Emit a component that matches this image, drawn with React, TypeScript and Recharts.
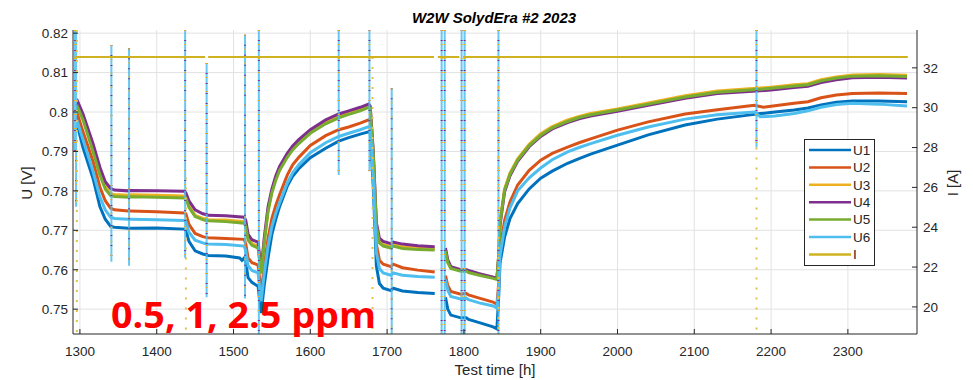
import React from 'react';
import { LineChart, Line, XAxis, YAxis, CartesianGrid } from 'recharts';

// axis ticks
const xTicks = [1300, 1400, 1500, 1600, 1700, 1800, 1900, 2000, 2100, 2200, 2300];
const uTicks = [0.75, 0.76, 0.77, 0.78, 0.79, 0.8, 0.81, 0.82];
const iTicks = [20, 22, 24, 26, 28, 30, 32];

const seriesNames = ['U1', 'U2', 'U3', 'U4', 'U5', 'U6', 'I'];
const seriesColors = ['#0072BD', '#D95319', '#EDB120', '#7E2F8E', '#77AC30', '#4DBEEE', '#CFB21F'];

// cell voltages [time h, U V]; null = no data
const u1 = [
  [1296, 0.795], [1297.5, 0.796], [1304, 0.791], [1317, 0.7832], [1326, 0.776], [1333, 0.7728], [1340, 0.771],
  [1345, 0.7708], [1363, 0.7705], [1366, 0.7705], [1400, 0.7706], [1436, 0.7703],
  [1438, 0.77], [1442, 0.7672], [1450, 0.7648], [1460, 0.764], [1464, 0.7638],
  [1467, 0.7636], [1490, 0.7635], [1508, 0.763], [1511, 0.7624], [1514, 0.763],
  [1516, 0.7618], [1519, 0.758], [1524, 0.7568], [1532, 0.7558],
  [1536, 0.749], [1540, 0.756], [1545, 0.763], [1550, 0.769], [1555, 0.7728], [1560, 0.776], [1570, 0.7812], [1577, 0.7837], [1585, 0.7856], [1600, 0.7884], [1620, 0.7908], [1637, 0.7926], [1650, 0.7935], [1665, 0.7944], [1676, 0.795],
  [1678, 0.7948], [1682, 0.781], [1686, 0.761], [1690, 0.7565], [1695, 0.7553], [1705, 0.7547], [1708, 0.7553], [1720, 0.7546], [1740, 0.7542], [1762, 0.754],
  [1768, null],
  [1776, 0.753], [1779, 0.75], [1783, 0.7485], [1796, 0.7478], [1803, 0.7478], [1806, 0.7474], [1820, 0.7466], [1838, 0.7455], [1843, 0.745],
  [1845.5, 0.754], [1847, 0.7616], [1853, 0.7683], [1860, 0.773], [1870, 0.7768], [1885, 0.7805], [1900, 0.7832], [1915, 0.785], [1935, 0.787], [1950, 0.7882], [1965, 0.7893], [2000, 0.7916], [2040, 0.7942], [2088, 0.7967], [2130, 0.7982], [2178, 0.7994], [2186, 0.7996], [2205, 0.8], [2230, 0.8005], [2248, 0.801], [2265, 0.8018], [2285, 0.8025], [2306, 0.8028], [2340, 0.8028], [2377, 0.8026],
];
const u2 = [
  [1296, 0.798], [1297.5, 0.799], [1304, 0.795], [1317, 0.7875], [1326, 0.781], [1333, 0.7775], [1340, 0.7756],
  [1345, 0.7752], [1363, 0.7749], [1366, 0.7749], [1400, 0.7747], [1436, 0.7744],
  [1438, 0.7742], [1442, 0.7715], [1450, 0.7692], [1460, 0.7684], [1464, 0.7682],
  [1467, 0.7681], [1490, 0.7679], [1514, 0.7677],
  [1516, 0.7665], [1519, 0.763], [1524, 0.7618], [1532, 0.7612],
  [1536, 0.754], [1540, 0.761], [1545, 0.768], [1550, 0.773], [1555, 0.7763], [1560, 0.779], [1570, 0.784], [1577, 0.7866], [1585, 0.7885], [1600, 0.7915], [1620, 0.794], [1637, 0.7955], [1650, 0.7962], [1665, 0.7972], [1676, 0.798],
  [1678, 0.7975], [1682, 0.785], [1686, 0.7665], [1690, 0.7624], [1695, 0.7614], [1705, 0.7608], [1708, 0.7614], [1720, 0.7605], [1740, 0.7599], [1762, 0.7594],
  [1768, null],
  [1776, 0.7585], [1779, 0.756], [1783, 0.7545], [1796, 0.7538], [1803, 0.754], [1806, 0.7536], [1820, 0.7528], [1838, 0.7518], [1843, 0.7512],
  [1845.5, 0.757], [1847, 0.765], [1853, 0.7725], [1860, 0.7772], [1870, 0.7815], [1885, 0.7852], [1900, 0.7878], [1915, 0.7895], [1935, 0.7911], [1950, 0.7922], [1965, 0.7932], [2000, 0.7954], [2040, 0.7975], [2088, 0.7995], [2130, 0.8006], [2178, 0.8017], [2190, 0.8012], [2205, 0.8016], [2230, 0.8022], [2248, 0.8026], [2265, 0.8036], [2285, 0.8043], [2306, 0.8047], [2340, 0.8048], [2377, 0.8047],
];
const u3 = [
  [1296, 0.8005], [1297.5, 0.8015], [1304, 0.7985], [1317, 0.791], [1326, 0.785], [1333, 0.7812], [1340, 0.7793],
  [1345, 0.7791], [1363, 0.7789], [1366, 0.779], [1400, 0.7789], [1436, 0.7787],
  [1438, 0.7785], [1442, 0.7762], [1450, 0.7738], [1460, 0.773], [1464, 0.7729],
  [1467, 0.7727], [1490, 0.7726], [1514, 0.7722],
  [1516, 0.7714], [1519, 0.768], [1524, 0.7666], [1532, 0.766],
  [1536, 0.7594], [1540, 0.7672], [1545, 0.7752], [1550, 0.7799], [1555, 0.7831], [1560, 0.7856], [1570, 0.7889], [1577, 0.7908], [1585, 0.7924], [1600, 0.795], [1620, 0.7974], [1637, 0.7989], [1650, 0.7998], [1665, 0.8007], [1676, 0.8016],
  [1678, 0.8011], [1682, 0.7894], [1686, 0.7714], [1690, 0.7672], [1695, 0.7664], [1705, 0.7659], [1708, 0.7664], [1720, 0.7658], [1740, 0.7655], [1762, 0.7654],
  [1768, null],
  [1776, 0.7651], [1779, 0.7621], [1783, 0.7606], [1796, 0.7599], [1803, 0.76], [1806, 0.7596], [1820, 0.7589], [1838, 0.7581], [1843, 0.7578],
  [1845.5, 0.7643], [1847, 0.7721], [1853, 0.7805], [1860, 0.7845], [1870, 0.7881], [1885, 0.7918], [1900, 0.7945], [1915, 0.7963], [1935, 0.798], [1950, 0.7989], [1965, 0.7996], [2000, 0.8008], [2040, 0.8023], [2088, 0.8041], [2130, 0.8053], [2181, 0.806], [2200, 0.8063], [2230, 0.8069], [2248, 0.8072], [2265, 0.8082], [2285, 0.8089], [2306, 0.8094], [2340, 0.8095], [2377, 0.8093],
];
const u4 = [
  [1296, 0.8015], [1297.5, 0.8025], [1304, 0.7995], [1317, 0.792], [1326, 0.786], [1333, 0.7823], [1340, 0.7806],
  [1345, 0.7802], [1363, 0.78], [1366, 0.7801], [1400, 0.78], [1436, 0.7799],
  [1438, 0.7795], [1442, 0.7775], [1450, 0.7752], [1460, 0.7742], [1464, 0.774],
  [1467, 0.7738], [1490, 0.7737], [1514, 0.7733],
  [1516, 0.7725], [1519, 0.769], [1524, 0.7676], [1532, 0.767],
  [1536, 0.76], [1540, 0.768], [1545, 0.776], [1550, 0.7805], [1555, 0.7838], [1560, 0.7862], [1570, 0.7895], [1577, 0.7914], [1585, 0.793], [1600, 0.7955], [1620, 0.798], [1637, 0.7995], [1650, 0.8003], [1665, 0.8012], [1676, 0.802],
  [1678, 0.8015], [1682, 0.79], [1686, 0.772], [1690, 0.768], [1695, 0.7672], [1705, 0.7666], [1708, 0.767], [1720, 0.7665], [1740, 0.7661], [1762, 0.7658],
  [1768, null],
  [1776, 0.7655], [1779, 0.7625], [1783, 0.7608], [1796, 0.76], [1803, 0.76], [1806, 0.7598], [1820, 0.759], [1838, 0.7581], [1843, 0.7578],
  [1845.5, 0.764], [1847, 0.7712], [1853, 0.7798], [1860, 0.7838], [1870, 0.7875], [1885, 0.7912], [1900, 0.7938], [1915, 0.7957], [1935, 0.7973], [1950, 0.7983], [1965, 0.799], [2000, 0.8002], [2040, 0.8017], [2088, 0.8035], [2130, 0.8047], [2181, 0.8053], [2200, 0.8056], [2230, 0.8062], [2248, 0.8065], [2265, 0.8075], [2285, 0.8082], [2306, 0.8087], [2340, 0.8088], [2377, 0.8086],
];
const u5 = [
  [1296, 0.8], [1297.5, 0.801], [1304, 0.798], [1317, 0.79], [1326, 0.784], [1333, 0.7805], [1340, 0.7788],
  [1345, 0.7786], [1363, 0.7784], [1366, 0.7785], [1400, 0.7784], [1436, 0.7782],
  [1438, 0.7782], [1442, 0.7758], [1450, 0.7735], [1460, 0.7727], [1464, 0.7725],
  [1467, 0.7724], [1490, 0.7722], [1514, 0.7718],
  [1516, 0.771], [1519, 0.7675], [1524, 0.7662], [1532, 0.7655],
  [1536, 0.759], [1540, 0.7668], [1545, 0.7748], [1550, 0.7795], [1555, 0.7827], [1560, 0.7852], [1570, 0.7885], [1577, 0.7904], [1585, 0.792], [1600, 0.7946], [1620, 0.797], [1637, 0.7985], [1650, 0.7994], [1665, 0.8003], [1676, 0.8012],
  [1678, 0.8008], [1682, 0.789], [1686, 0.771], [1690, 0.7668], [1695, 0.766], [1705, 0.7655], [1708, 0.766], [1720, 0.7654], [1740, 0.7651], [1762, 0.765],
  [1768, null],
  [1776, 0.7648], [1779, 0.7618], [1783, 0.7603], [1796, 0.7596], [1803, 0.7597], [1806, 0.7593], [1820, 0.7586], [1838, 0.7578], [1843, 0.7575],
  [1845.5, 0.764], [1847, 0.7718], [1853, 0.7802], [1860, 0.7842], [1870, 0.7878], [1885, 0.7915], [1900, 0.7941], [1915, 0.796], [1935, 0.7976], [1950, 0.7986], [1965, 0.7993], [2000, 0.8005], [2040, 0.802], [2088, 0.8038], [2130, 0.805], [2181, 0.8057], [2200, 0.806], [2230, 0.8066], [2248, 0.8069], [2265, 0.8079], [2285, 0.8086], [2306, 0.8091], [2340, 0.8092], [2377, 0.809],
];
const u6 = [
  [1296, 0.796], [1297.5, 0.797], [1304, 0.793], [1317, 0.785], [1326, 0.7785], [1333, 0.7752], [1340, 0.7733],
  [1345, 0.773], [1363, 0.7728], [1366, 0.7728], [1400, 0.7727], [1436, 0.7725],
  [1438, 0.7722], [1442, 0.7695], [1450, 0.7675], [1460, 0.7668], [1464, 0.7666],
  [1467, 0.7665], [1490, 0.7664], [1514, 0.766],
  [1516, 0.7648], [1519, 0.761], [1524, 0.7598], [1532, 0.7592],
  [1536, 0.752], [1540, 0.759], [1545, 0.766], [1550, 0.771], [1555, 0.7743], [1560, 0.777], [1570, 0.782], [1577, 0.7846], [1585, 0.7866], [1600, 0.7897], [1620, 0.7922], [1637, 0.7938], [1650, 0.7946], [1665, 0.7955], [1676, 0.7963],
  [1678, 0.796], [1682, 0.783], [1686, 0.7645], [1690, 0.7603], [1695, 0.7592], [1705, 0.7586], [1708, 0.7592], [1720, 0.7586], [1740, 0.7583], [1762, 0.7581],
  [1768, null],
  [1776, 0.7575], [1779, 0.7548], [1783, 0.7532], [1796, 0.7526], [1803, 0.7528], [1806, 0.7524], [1820, 0.7516], [1838, 0.7508], [1843, 0.7503],
  [1845.5, 0.7555], [1847, 0.7635], [1853, 0.7708], [1860, 0.7757], [1870, 0.78], [1885, 0.7833], [1900, 0.7858], [1915, 0.7879], [1935, 0.7899], [1950, 0.791], [1965, 0.792], [2000, 0.7941], [2040, 0.7962], [2088, 0.7982], [2130, 0.7993], [2178, 0.8], [2186, 0.7988], [2205, 0.799], [2230, 0.7996], [2248, 0.8003], [2265, 0.8012], [2285, 0.8019], [2306, 0.8022], [2340, 0.802], [2377, 0.8015],
];

// current [time h, I A]
const iLine = [
  [1293, 32.55], [1463, 32.55], [1464, null], [1467, 32.55], [1761, 32.55], [1762, null],
  [1766, 32.55], [1794, 32.55], [1795, null], [1799, 32.55], [2378, 32.55],
];

// transients during the events: [time h, upper V, lower V]
const spikes = [
  [1293.5, 0.8208, 0.79], [1295, 0.8208, 0.776], [1341, 0.817, 0.762], [1364, 0.8162, 0.761],
  [1437, 0.8208, 0.763], [1465, 0.8124, 0.753], [1515, 0.8196, 0.7527], [1533, 0.8208, 0.7437],
  [1637, 0.8208, 0.784], [1677, 0.8208, 0.785], [1706, 0.806, 0.7437], [1771, 0.8208, 0.7437],
  [1775, 0.8208, 0.7437], [1797, 0.8208, 0.7437], [1801, 0.8208, 0.7437], [1845, 0.8208, 0.7437],
  [2181, 0.8208, 0.791],
];
// current drop-outs: [time h, upper A, lower A]
const iDips = [
  [1296, 33.9, 18.7], [1438, 26.5, 18.7], [1681, 32.55, 18.7], [1845, 32.55, 18.7], [2181, 28.5, 18.7],
];

const uSeries = [u1, u2, u3, u4, u5, u6];

const toPts = (arr) => arr.map(([t, v]) => ({ t, v }));
const toBars = (arr) => arr.flatMap(([t, hi, lo]) => [{ t, v: hi }, { t, v: lo }, { t, v: null }]);

const font = "'Liberation Sans', Arial, Helvetica, sans-serif";
const ink = '#262626';
const tickStyle = { fill: ink, fontSize: 13.5, fontFamily: font };

const Overlay = () => (
  <svg width={973} height={380} style={{ position: 'absolute', left: 0, top: 0, pointerEvents: 'none' }}>
    <text x={494} y={23} textAnchor="middle" fontFamily={font} fontSize={15} fontWeight="bold" fontStyle="italic" fill="#000">
      W2W SolydEra #2 2023
    </text>
    <text x={495} y={375} textAnchor="middle" fontFamily={font} fontSize={15} fill={ink}>Test time [h]</text>
    <text transform="translate(32,183) rotate(-90)" textAnchor="middle" fontFamily={font} fontSize={15} fill={ink}>U [V]</text>
    <text transform="translate(958,183) rotate(-90)" textAnchor="middle" fontFamily={font} fontSize={15} fill={ink}>I [A]</text>
    <text x={111} y={328} fontFamily="'Open Sans', sans-serif" fontWeight="bold" fontSize={35} fill="#FF0000"
      textLength={265} lengthAdjust="spacingAndGlyphs">
      0.5, 1, 2.5 ppm
    </text>
    <rect x={804.5} y={139.5} width={70} height={126} fill="#fff" stroke={ink} strokeWidth={1} />
    {seriesNames.map((name, i) => (
      <g key={name}>
        <line x1={809} x2={851} y1={150 + i * 17.4} y2={150 + i * 17.4} stroke={seriesColors[i]} strokeWidth={2.5} />
        <text x={853} y={150 + i * 17.4 + 4.8} fontFamily={font} fontSize={13.5} fill={ink}>{name}</text>
      </g>
    ))}
  </svg>
);

export default function App() {
  return (
    <div style={{ position: 'absolute', left: 0, top: 0, width: 973, height: 380, background: '#fff' }}>
      <LineChart width={973} height={380} margin={{ top: 30, right: 0, bottom: 0, left: 0 }}>
        <CartesianGrid stroke="#e2e2e2" horizontalValues={uTicks} verticalValues={xTicks} />
        <XAxis dataKey="t" type="number" domain={[1291, 2390]} ticks={xTicks} allowDataOverflow
          height={46} tickSize={-5} tickMargin={17} tick={tickStyle}
          axisLine={{ stroke: ink }} tickLine={{ stroke: ink }} />
        <XAxis xAxisId="top" orientation="top" dataKey="t" type="number" domain={[1291, 2390]} ticks={xTicks}
          allowDataOverflow height={0} tickSize={-5} tickFormatter={() => ''}
          axisLine={{ stroke: ink }} tickLine={{ stroke: ink }} />
        <YAxis type="number" domain={[0.7437, 0.8208]} ticks={uTicks} allowDataOverflow width={73}
          tickSize={-5} tickMargin={10} tick={tickStyle} tickFormatter={(v) => String(+v.toFixed(2))}
          axisLine={{ stroke: ink }} tickLine={{ stroke: ink }} />
        <YAxis yAxisId="right" orientation="right" type="number" domain={[18.64, 33.9]} ticks={iTicks}
          allowDataOverflow width={56} tickSize={-5} tickMargin={11} tick={tickStyle}
          axisLine={{ stroke: ink }} tickLine={{ stroke: ink }} />
        {uSeries.map((s, i) => (
          <Line key={seriesNames[i]} data={toPts(s)} dataKey="v" type="linear" stroke={seriesColors[i]}
            strokeWidth={3} dot={false} activeDot={false} isAnimationActive={false} />
        ))}
        <Line data={toBars(spikes)} dataKey="v" type="linear" stroke="#4DBEEE" strokeWidth={2} strokeOpacity={0.85}
          dot={false} activeDot={false} isAnimationActive={false} />
        <Line data={toBars(spikes)} dataKey="v" type="linear" stroke="#7E2F8E" strokeWidth={2} strokeDasharray="1 9"
          dot={false} activeDot={false} isAnimationActive={false} />
        <Line data={toBars(spikes)} dataKey="v" type="linear" stroke="#EDB120" strokeWidth={2} strokeDasharray="1 13"
          dot={false} activeDot={false} isAnimationActive={false} />
        <Line yAxisId="right" data={toBars(iDips)} dataKey="v" type="linear" stroke="#E3C24A" strokeWidth={2}
          strokeDasharray="2 8" dot={false} activeDot={false} isAnimationActive={false} />
        <Line yAxisId="right" data={toPts(iLine)} dataKey="v" type="linear" stroke={seriesColors[6]} strokeWidth={2}
          dot={false} activeDot={false} isAnimationActive={false} />
      </LineChart>
      <Overlay />
    </div>
  );
}
